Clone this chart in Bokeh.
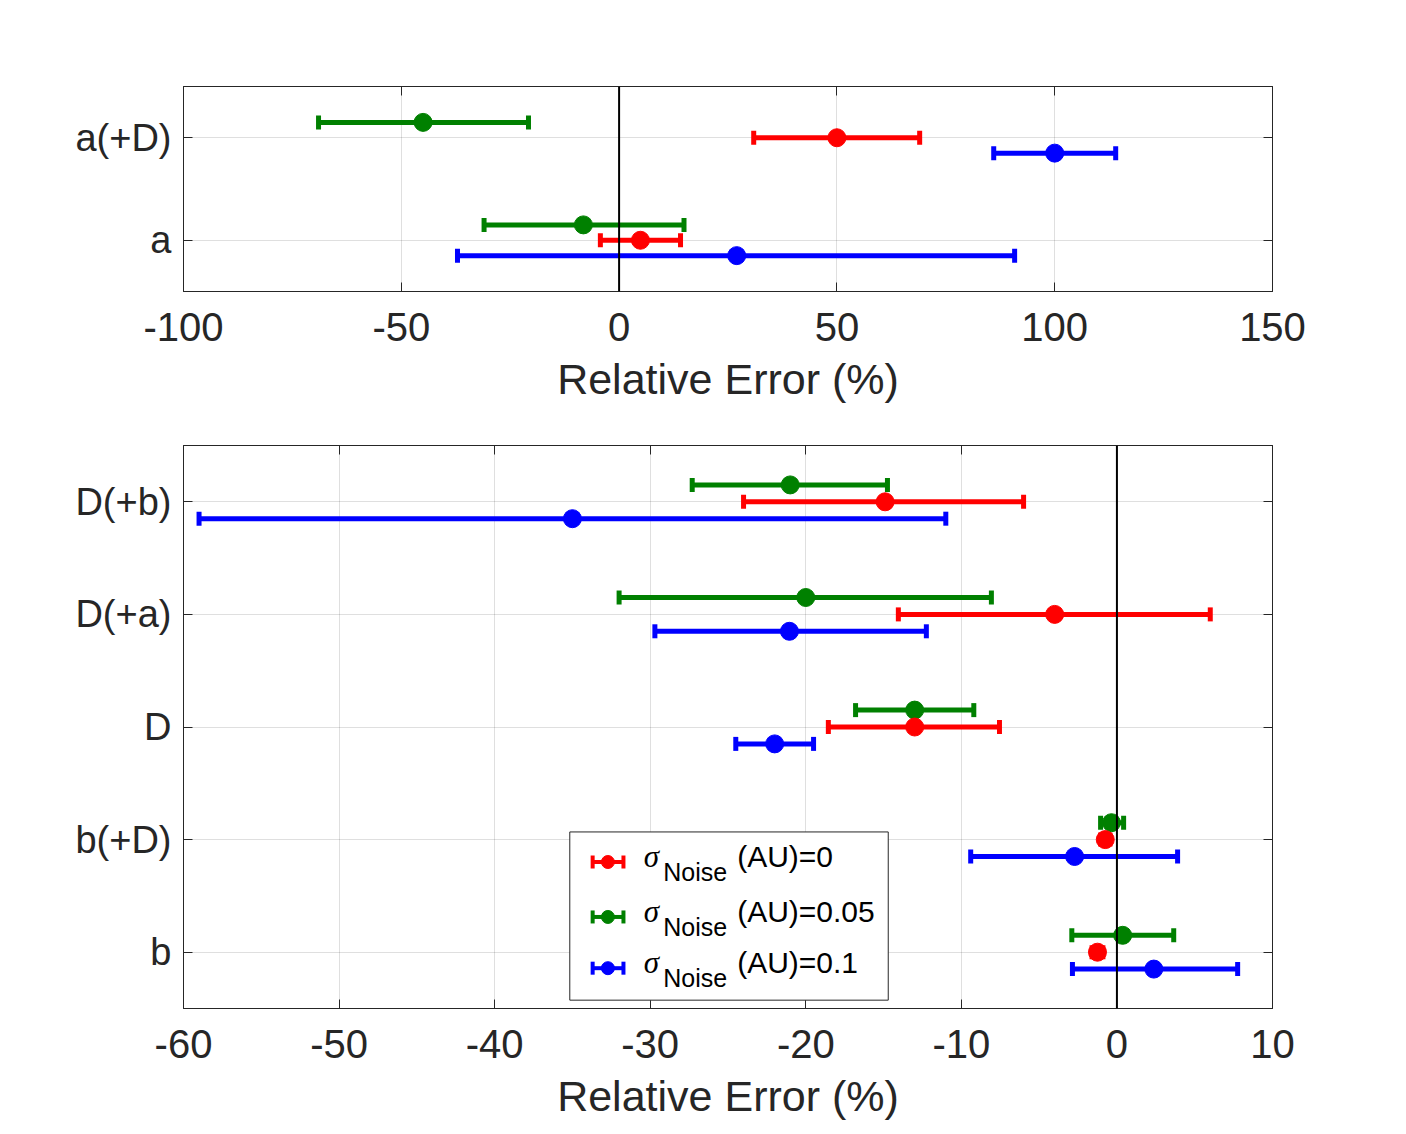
import numpy as np
from bokeh.plotting import figure
from bokeh.models import (ColumnDataSource, Span, FixedTicker, LinearAxis, BoxAnnotation,
                          Label, CustomJSTickFormatter, Range1d)
from bokeh.layouts import column
from bokeh.embed import file_html
from bokeh.resources import INLINE

# ---------------- data ----------------
top_categories = ["a", "a(+D)"]
top_red_mean = [4.9, 50.0]
top_red_lo = [-4.3, 30.9]
top_red_hi = [14.1, 69.0]
top_green_mean = [-8.2, -45.0]
top_green_lo = [-31.0, -69.0]
top_green_hi = [14.9, -20.8]
top_blue_mean = [27.0, 100.0]
top_blue_lo = [-37.1, 86.0]
top_blue_hi = [90.8, 114.0]
top_xticks = [-100, -50, 0, 50, 100, 150]

bot_categories = ["b", "b(+D)", "D", "D(+a)", "D(+b)"]
bot_red_mean = [-1.25, -0.75, -13.0, -4.0, -14.9]
bot_red_lo = [-1.6, -1.05, -18.55, -14.05, -24.0]
bot_red_hi = [-0.9, -0.45, -7.55, 6.0, -6.0]
bot_green_mean = [0.37, -0.35, -13.0, -20.0, -21.0]
bot_green_lo = [-2.9, -1.05, -16.8, -32.0, -27.3]
bot_green_hi = [3.65, 0.43, -9.2, -8.07, -14.75]
bot_blue_mean = [2.37, -2.72, -22.0, -21.05, -35.0]
bot_blue_lo = [-2.86, -9.4, -24.5, -29.7, -59.0]
bot_blue_hi = [7.76, 3.9, -19.5, -12.25, -11.0]
bot_xticks = [-60, -50, -40, -30, -20, -10, 0, 10]

legend_labels = ["(AU)=0", "(AU)=0.05", "(AU)=0.1"]

# ---------------- style ----------------
FONT = "Liberation Sans"
INK = "#262626"
RED, GREEN, BLUE = "#ff0000", "#008000", "#0000ff"
OFFSETS = {RED: 0.0, GREEN: 0.15, BLUE: -0.15}
EMPTY = CustomJSTickFormatter(code="return ''")


def style_axis(ax, size="38px"):
    ax.axis_line_color = INK
    ax.major_tick_line_color = INK
    ax.major_tick_in = 9
    ax.major_tick_out = 0
    ax.minor_tick_line_color = None
    ax.major_label_text_font = FONT
    ax.major_label_text_font_size = size
    ax.major_label_text_color = INK


def draw_errorbars(p, y, mean, lo, hi, color, lw=5, cap=14, msize=18, level="glyph"):
    src = ColumnDataSource(dict(y=y, m=mean, lo=lo, hi=hi))
    r1 = p.segment(x0="lo", x1="hi", y0="y", y1="y", source=src, line_color=color, line_width=lw)
    r2 = p.scatter(x="lo", y="y", source=src, marker="dash", angle=np.pi / 2, size=cap,
                   line_color=color, line_width=lw)
    r3 = p.scatter(x="hi", y="y", source=src, marker="dash", angle=np.pi / 2, size=cap,
                   line_color=color, line_width=lw)
    r4 = p.scatter(x="m", y="y", source=src, marker="circle", size=msize,
                   fill_color=color, line_color=color, line_width=1)
    for r in (r1, r2, r3, r4):
        r.level = level


def make_panel(categories, series, x_start, x_end, xticks, height, b_top, b_bottom):
    n = len(categories)
    p = figure(width=1398, height=height, x_range=Range1d(x_start, x_end),
               y_range=Range1d(0.5, n + 0.5), output_backend="svg", toolbar_location=None,
               min_border_left=183, min_border_right=126, min_border_top=b_top,
               min_border_bottom=b_bottom)
    p.outline_line_color = INK
    p.outline_line_width = 1
    p.background_fill_color = "white"
    p.border_fill_color = "white"

    yt = list(range(1, n + 1))
    bottom_ax = p.below[0]
    left_ax = p.left[0]
    bottom_ax.ticker = FixedTicker(ticks=xticks)
    bottom_ax.major_label_overrides = {t: str(t) for t in xticks}
    left_ax.ticker = FixedTicker(ticks=yt)
    left_ax.major_label_overrides = {i + 1: c for i, c in enumerate(categories)}

    top_ax = LinearAxis(ticker=FixedTicker(ticks=xticks), formatter=EMPTY)
    right_ax = LinearAxis(ticker=FixedTicker(ticks=yt), formatter=EMPTY)
    p.add_layout(top_ax, "above")
    p.add_layout(right_ax, "right")

    style_axis(bottom_ax, "40px")
    style_axis(left_ax, "38px")
    style_axis(top_ax, "1px")
    style_axis(right_ax, "1px")

    left_ax.major_label_standoff = 12
    bottom_ax.major_label_standoff = 21
    bottom_ax.axis_label = "Relative Error (%)"
    bottom_ax.axis_label_text_font = FONT
    bottom_ax.axis_label_text_font_size = "43px"
    bottom_ax.axis_label_text_font_style = "normal"
    bottom_ax.axis_label_text_color = INK
    bottom_ax.axis_label_standoff = 11

    p.xgrid.ticker = FixedTicker(ticks=xticks)
    p.ygrid.ticker = FixedTicker(ticks=yt)
    for g in (p.xgrid, p.ygrid):
        g.grid_line_color = INK
        g.grid_line_alpha = 0.15
        g.grid_line_width = 1

    for color, mean, lo, hi in series:
        y = [i + 1 + OFFSETS[color] for i in range(n)]
        draw_errorbars(p, y, mean, lo, hi, color)

    p.add_layout(Span(location=0, dimension="height", line_color="black", line_width=2))
    return p


p1 = make_panel(top_categories,
                [(BLUE, top_blue_mean, top_blue_lo, top_blue_hi),
                 (GREEN, top_green_mean, top_green_lo, top_green_hi),
                 (RED, top_red_mean, top_red_lo, top_red_hi)],
                -100, 150, top_xticks, 420, 86, 129)

p2 = make_panel(bot_categories,
                [(BLUE, bot_blue_mean, bot_blue_lo, bot_blue_hi),
                 (GREEN, bot_green_mean, bot_green_lo, bot_green_hi),
                 (RED, bot_red_mean, bot_red_lo, bot_red_hi)],
                -60, 10, bot_xticks, 712, 25, 124)

# ---------------- legend (drawn by hand, for the subscript) ----------------
p2.add_layout(BoxAnnotation(left=-35.17, right=-14.70, bottom=0.574, top=2.068,
                            fill_color="white", fill_alpha=1.0, line_color=INK,
                            line_width=1, line_alpha=1.0))
leg_rows = [1.801, 1.313, 0.858]
leg_colors = [RED, GREEN, BLUE]
for ry, col, lab in zip(leg_rows, leg_colors, legend_labels):
    draw_errorbars(p2, [ry], [-32.72], [-33.70], [-31.72], col, lw=4, cap=13, msize=13,
                   level="overlay")
    p2.add_layout(Label(x=-30.41, y=ry + 0.050, text="σ", text_font="Liberation Serif",
                        text_font_style="italic", text_font_size="31px", text_color="black",
                        text_baseline="alphabetic", text_align="left"))
    p2.add_layout(Label(x=-29.16, y=ry - 0.085, text="Noise", text_font=FONT,
                        text_font_size="25px", text_color="black",
                        text_baseline="alphabetic", text_align="left"))
    p2.add_layout(Label(x=-24.41, y=ry + 0.050, text=lab, text_font=FONT,
                        text_font_size="30px", text_color="black",
                        text_baseline="alphabetic", text_align="left"))

layout = column(p1, p2, spacing=0)
open("out.html", "w").write(file_html(layout, INLINE))
